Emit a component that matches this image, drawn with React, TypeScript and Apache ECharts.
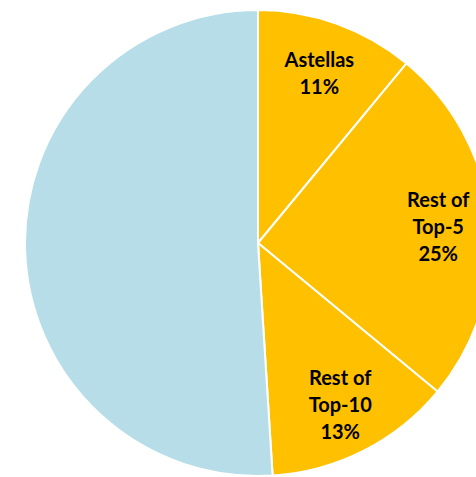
import React, { useEffect, useRef } from "react";
import * as echarts from "echarts";

const categories = ["Astellas", "Rest of\nTop-5", "Rest of\nTop-10", "Others"];
const values = [11, 25, 13, 51];
const colors = ["#FFC000", "#FFC000", "#FFC000", "#B7DEE8"];
const showLabel = [true, true, true, false];

export default function App() {
  const ref = useRef<HTMLDivElement>(null);
  useEffect(() => {
    if (!ref.current) return;
    const chart = echarts.init(ref.current, undefined, { renderer: "svg" });
    const R = 233;
    const base = categories.map((name, i) => ({
      name,
      value: values[i],
    }));
    chart.setOption({
      animation: false,
      series: [
        {
          type: "pie",
          center: [258, 243],
          radius: [0, R],
          startAngle: 90,
          clockwise: true,
          silent: true,
          label: { show: false },
          labelLine: { show: false },
          itemStyle: { borderColor: "#ffffff", borderWidth: 2 },
          data: base.map((d, i) => ({ ...d, itemStyle: { color: colors[i] } })),
        },
        {
          type: "pie",
          center: [258, 243],
          radius: [Math.round(R * 0.53), R],
          startAngle: 90,
          clockwise: true,
          silent: true,
          labelLine: { show: false },
          itemStyle: { color: "rgba(0,0,0,0)", borderWidth: 0 },
          label: {
            position: "inside",
            fontFamily: "Lato",
            fontWeight: "bold",
            fontSize: 20,
            lineHeight: 27,
            color: "#000000",
            formatter: (p: any) =>
              showLabel[p.dataIndex] ? `${p.name}\n${p.value}%` : "",
          },
          data: base,
        },
      ],
    });
    return () => chart.dispose();
  }, []);
  return (
    <div
      ref={ref}
      style={{ position: "fixed", left: 0, top: 0, width: 476, height: 477, background: "#ffffff" }}
    />
  );
}
